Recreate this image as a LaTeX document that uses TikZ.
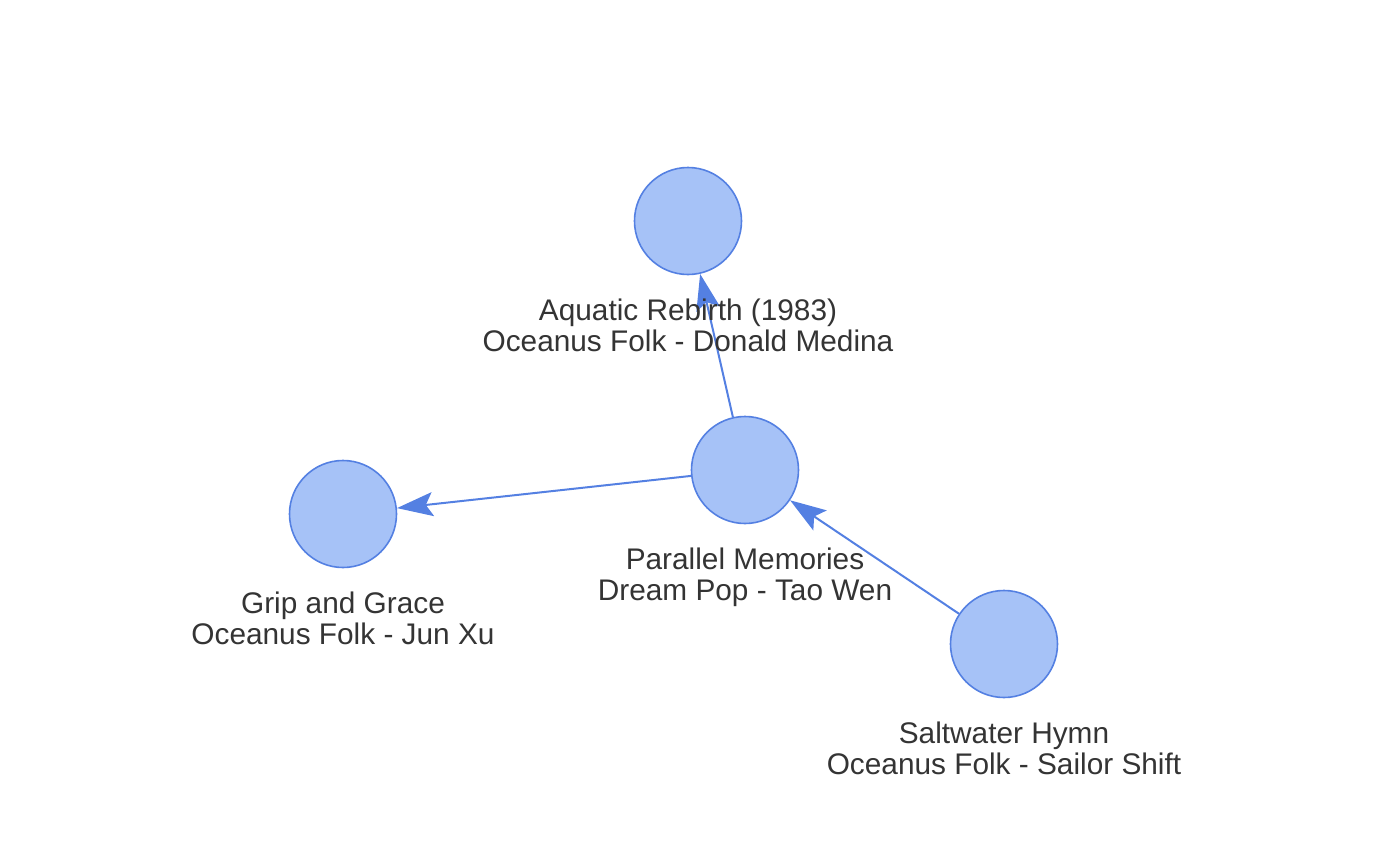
\documentclass[tikz,border=0pt]{standalone}
\usepackage{fontspec}
\setmainfont{Liberation Sans}
\usetikzlibrary{arrows.meta}
\definecolor{nodefill}{RGB}{166,194,247}
\definecolor{nodeline}{RGB}{84,128,226}
\definecolor{edgeline}{RGB}{84,128,226}
\definecolor{labeltext}{RGB}{52,52,52}
\begin{document}
\begin{tikzpicture}[x=1pt,y=-1pt,
  song/.style={circle,draw=nodeline,fill=nodefill,line width=1.6pt,minimum size=107pt,inner sep=0pt},
  songlabel/.style={text=labeltext,align=center,inner sep=0pt,anchor=base,
    font=\fontsize{29.8pt}{31pt}\selectfont},
  link/.style={draw=edgeline,line width=2pt,
    -{Stealth[length=36pt,width=24pt,inset=7pt]}}]
\useasboundingbox (0,0) rectangle (1393,849);

\node[song] (aquatic)  at (688,221) {};
\node[song] (parallel) at (745,470) {};
\node[song] (grip)     at (343,514) {};
\node[song] (salt)     at (1004,644) {};

\draw[link] (parallel) -- (aquatic);
\draw[link] (parallel) -- (grip);
\draw[link] (salt) -- (parallel);

\node[songlabel] (aquaticA) at (688,320) {Aquatic Rebirth (1983)};
\node[songlabel] (aquaticB) at (688,351) {Oceanus Folk - Donald Medina};
\node[songlabel] (parallelA) at (745,569) {Parallel Memories};
\node[songlabel] (parallelB) at (745,600) {Dream Pop - Tao Wen};
\node[songlabel] (gripA) at (343,613) {Grip and Grace};
\node[songlabel] (gripB) at (343,644) {Oceanus Folk - Jun Xu};
\node[songlabel] (saltA) at (1004,743) {Saltwater Hymn};
\node[songlabel] (saltB) at (1004,774) {Oceanus Folk - Sailor Shift};
\end{tikzpicture}
\end{document}
